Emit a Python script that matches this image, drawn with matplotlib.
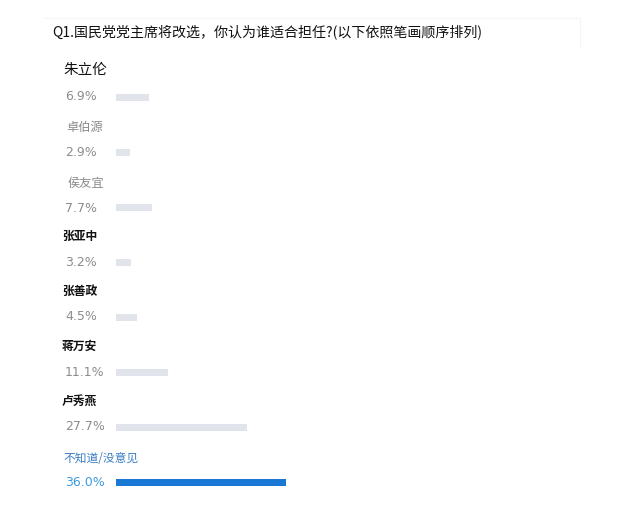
import matplotlib
matplotlib.use("Agg")
import matplotlib.pyplot as plt

plt.rcParams['font.family'] = ['Noto Sans CJK SC', 'DejaVu Sans']

title = "Q1.国民党党主席将改选，你认为谁适合担任?(以下依照笔画顺序排列)"
names = ["朱立伦", "卓伯源", "侯友宜", "张亚中", "张善政", "蒋万安", "卢秀燕", "不知道/没意见"]
values = [6.9, 2.9, 7.7, 3.2, 4.5, 11.1, 27.7, 36.0]
labels = ["6.9%", "2.9%", "7.7%", "3.2%", "4.5%", "11.1%", "27.7%", "36.0%"]

W, H = 641, 509
fig = plt.figure(figsize=(W / 100, H / 100), dpi=100)
fig.patch.set_facecolor("white")
ax = fig.add_axes([0, 0, 1, 1])
ax.axis("off")

# pixel mapping: x_px = 116 + 4.72*v ; y_px = 97 + 55.1*i
ax.set_xlim((0 - 116) / 4.72, (W - 116) / 4.72)
ax.set_ylim((H - 97) / 55.1, (0 - 97) / 55.1)

bar_colors = ["#e1e4ea"] * 7 + ["#1878d4"]
ax.barh(range(len(values)), values, height=7 / 55.1, color=bar_colors, left=0)

def fx(px):
    return px / W

def fy(py):
    return 1 - py / H

# very faint top/right border of the question header
fig.add_artist(plt.Line2D([fx(44), fx(580), fx(580)], [fy(18), fy(18), fy(46)],
                          transform=fig.transFigure, color="#f5f5f5", linewidth=0.8))

fig.text(fx(52), fy(32), title, fontsize=10.1, color="#111111", va="center",
         ha="left", fontweight="medium")

name_y = [70, 127, 183, 236, 291, 346, 401, 458]
pct_y = [97, 152, 208, 262, 317, 372, 427, 483]
name_x = [63, 66, 67, 62, 62, 62, 62, 63]
name_styles = [
    dict(fontsize=10.5, color="#111111", fontweight="normal"),
    dict(fontsize=8.8, color="#8a8a8a", fontweight="normal"),
    dict(fontsize=8.8, color="#8a8a8a", fontweight="normal"),
    dict(fontsize=8.5, color="#111111", fontweight="bold"),
    dict(fontsize=8.5, color="#111111", fontweight="bold"),
    dict(fontsize=8.5, color="#111111", fontweight="bold"),
    dict(fontsize=8.5, color="#111111", fontweight="bold"),
    dict(fontsize=8.5, color="#3a7fc4", fontweight="normal"),
]
for n, x, y, st in zip(names, name_x, name_y, name_styles):
    fig.text(fx(x), fy(y), n, va="center", ha="left", **st)

pct_colors = ["#8c8c8c"] * 7 + ["#3c9be0"]
for lab, y, c in zip(labels, pct_y, pct_colors):
    fig.text(fx(65), fy(y), lab, va="center", ha="left", fontsize=9,
             color=c, family=["DejaVu Sans"])

fig.savefig("out.png", dpi=100, facecolor="white")
